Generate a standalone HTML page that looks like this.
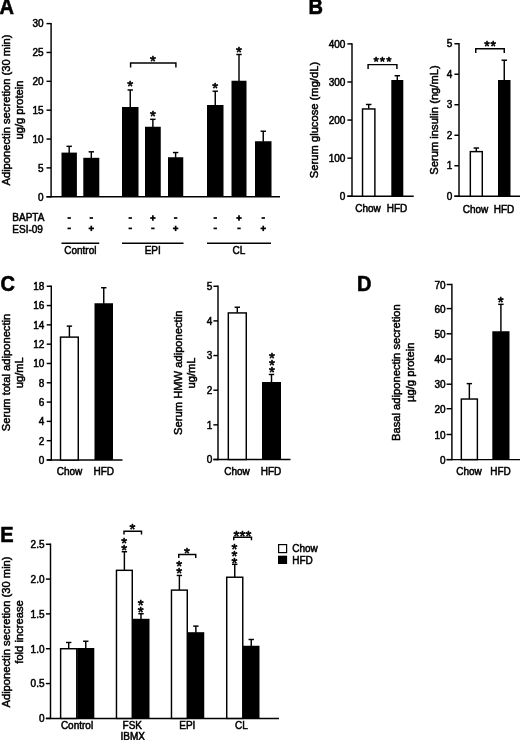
<!DOCTYPE html>
<html lang="en">
<head>
<meta charset="utf-8">
<title>Figure</title>
<style>
html,body{margin:0;padding:0;background:#fff;}
body{width:520px;height:740px;overflow:hidden;}
svg{display:block;will-change:transform;}
text{font-family:"Liberation Sans",Arial,Helvetica,sans-serif;fill:#000;}
.t{stroke:#000;stroke-width:0.5px;}
.k{letter-spacing:0.3px;}
.p{stroke:#000;stroke-width:0.6px;stroke-linejoin:round;}
.s{stroke:#000;stroke-width:0.65px;stroke-linejoin:round;}
</style>
</head>
<body>
<svg width="520" height="740" viewBox="0 0 520 740">
<rect x="0" y="0" width="520" height="740" fill="#fff"/>
<text class="p" transform="translate(-0.60,14.30) scale(0.92,1)" font-size="21.8" font-weight="bold">A</text>
<line x1="51.10" y1="22.88" x2="51.10" y2="197.47" stroke="#000" stroke-width="1.45"/>
<line x1="46.50" y1="196.75" x2="280.00" y2="196.75" stroke="#000" stroke-width="1.45"/>
<line x1="46.50" y1="23.60" x2="51.10" y2="23.60" stroke="#000" stroke-width="1.45"/>
<text class="t" x="43.50" y="27.38" font-size="10" letter-spacing="0" text-anchor="end">30</text>
<line x1="46.50" y1="52.46" x2="51.10" y2="52.46" stroke="#000" stroke-width="1.45"/>
<text class="t" x="43.50" y="56.24" font-size="10" letter-spacing="0" text-anchor="end">25</text>
<line x1="46.50" y1="81.32" x2="51.10" y2="81.32" stroke="#000" stroke-width="1.45"/>
<text class="t" x="43.50" y="85.10" font-size="10" letter-spacing="0" text-anchor="end">20</text>
<line x1="46.50" y1="110.18" x2="51.10" y2="110.18" stroke="#000" stroke-width="1.45"/>
<text class="t" x="43.50" y="113.96" font-size="10" letter-spacing="0" text-anchor="end">15</text>
<line x1="46.50" y1="139.03" x2="51.10" y2="139.03" stroke="#000" stroke-width="1.45"/>
<text class="t" x="43.50" y="142.81" font-size="10" letter-spacing="0" text-anchor="end">10</text>
<line x1="46.50" y1="167.89" x2="51.10" y2="167.89" stroke="#000" stroke-width="1.45"/>
<text class="t" x="43.50" y="171.67" font-size="10" letter-spacing="0" text-anchor="end">5</text>
<line x1="46.50" y1="196.75" x2="51.10" y2="196.75" stroke="#000" stroke-width="1.45"/>
<text class="t" x="43.50" y="200.53" font-size="10" letter-spacing="0" text-anchor="end">0</text>
<text class="t" transform="translate(9.61,110.00) rotate(-90)" font-size="11.2" text-anchor="middle">Adiponectin secretion (30 min)</text>
<text class="t" transform="translate(22.91,110.00) rotate(-90)" font-size="11.2" text-anchor="middle">ug/g protein</text>
<rect x="61.50" y="152.60" width="15.40" height="44.15" fill="#000"/>
<line x1="69.20" y1="153.10" x2="69.20" y2="146.32" stroke="#000" stroke-width="1.45"/>
<line x1="66.50" y1="146.32" x2="71.90" y2="146.32" stroke="#000" stroke-width="1.45"/>
<rect x="83.30" y="157.80" width="16.00" height="38.95" fill="#000"/>
<line x1="91.30" y1="158.30" x2="91.30" y2="151.82" stroke="#000" stroke-width="1.45"/>
<line x1="88.60" y1="151.82" x2="94.00" y2="151.82" stroke="#000" stroke-width="1.45"/>
<rect x="122.00" y="107.00" width="16.50" height="89.75" fill="#000"/>
<line x1="130.25" y1="107.50" x2="130.25" y2="89.97" stroke="#000" stroke-width="1.45"/>
<line x1="127.55" y1="89.97" x2="132.95" y2="89.97" stroke="#000" stroke-width="1.45"/>
<rect x="145.00" y="126.75" width="15.75" height="70.00" fill="#000"/>
<line x1="152.88" y1="127.25" x2="152.88" y2="119.32" stroke="#000" stroke-width="1.45"/>
<line x1="150.18" y1="119.32" x2="155.57" y2="119.32" stroke="#000" stroke-width="1.45"/>
<rect x="168.00" y="157.25" width="15.25" height="39.50" fill="#000"/>
<line x1="175.62" y1="157.75" x2="175.62" y2="152.53" stroke="#000" stroke-width="1.45"/>
<line x1="172.93" y1="152.53" x2="178.32" y2="152.53" stroke="#000" stroke-width="1.45"/>
<rect x="207.00" y="105.00" width="16.50" height="91.75" fill="#000"/>
<line x1="215.25" y1="105.50" x2="215.25" y2="91.22" stroke="#000" stroke-width="1.45"/>
<line x1="212.55" y1="91.22" x2="217.95" y2="91.22" stroke="#000" stroke-width="1.45"/>
<rect x="231.50" y="80.75" width="15.00" height="116.00" fill="#000"/>
<line x1="239.00" y1="81.25" x2="239.00" y2="54.48" stroke="#000" stroke-width="1.45"/>
<line x1="236.30" y1="54.48" x2="241.70" y2="54.48" stroke="#000" stroke-width="1.45"/>
<rect x="255.00" y="141.25" width="16.50" height="55.50" fill="#000"/>
<line x1="263.25" y1="141.75" x2="263.25" y2="131.22" stroke="#000" stroke-width="1.45"/>
<line x1="260.55" y1="131.22" x2="265.95" y2="131.22" stroke="#000" stroke-width="1.45"/>
<text class="s" x="130.25" y="91.49" font-size="15" letter-spacing="0" text-anchor="middle">*</text>
<text class="s" x="153.00" y="121.49" font-size="15" letter-spacing="0" text-anchor="middle">*</text>
<text class="s" x="215.25" y="93.19" font-size="15" letter-spacing="0" text-anchor="middle">*</text>
<text class="s" x="239.00" y="56.94" font-size="15" letter-spacing="0" text-anchor="middle">*</text>
<polyline points="130.60,67.50 130.60,63.00 175.90,63.00 175.90,67.50" fill="none" stroke="#000" stroke-width="1.45"/>
<text class="s" x="153.00" y="65.99" font-size="15" letter-spacing="0" text-anchor="middle">*</text>
<text class="t" x="12.30" y="221.28" font-size="10" text-anchor="start">BAPTA</text>
<text class="t" x="12.30" y="232.68" font-size="10" text-anchor="start">ESI-09</text>
<line x1="67.50" y1="218.00" x2="70.90" y2="218.00" stroke="#000" stroke-width="1.7"/>
<line x1="67.50" y1="228.40" x2="70.90" y2="228.40" stroke="#000" stroke-width="1.7"/>
<line x1="89.60" y1="218.00" x2="93.00" y2="218.00" stroke="#000" stroke-width="1.7"/>
<line x1="88.60" y1="228.40" x2="94.00" y2="228.40" stroke="#000" stroke-width="1.7"/>
<line x1="91.30" y1="225.70" x2="91.30" y2="231.10" stroke="#000" stroke-width="1.7"/>
<line x1="128.55" y1="218.00" x2="131.95" y2="218.00" stroke="#000" stroke-width="1.7"/>
<line x1="128.55" y1="228.40" x2="131.95" y2="228.40" stroke="#000" stroke-width="1.7"/>
<line x1="150.18" y1="218.00" x2="155.57" y2="218.00" stroke="#000" stroke-width="1.7"/>
<line x1="152.88" y1="215.30" x2="152.88" y2="220.70" stroke="#000" stroke-width="1.7"/>
<line x1="151.18" y1="228.40" x2="154.57" y2="228.40" stroke="#000" stroke-width="1.7"/>
<line x1="173.93" y1="218.00" x2="177.32" y2="218.00" stroke="#000" stroke-width="1.7"/>
<line x1="172.93" y1="228.40" x2="178.32" y2="228.40" stroke="#000" stroke-width="1.7"/>
<line x1="175.62" y1="225.70" x2="175.62" y2="231.10" stroke="#000" stroke-width="1.7"/>
<line x1="213.55" y1="218.00" x2="216.95" y2="218.00" stroke="#000" stroke-width="1.7"/>
<line x1="213.55" y1="228.40" x2="216.95" y2="228.40" stroke="#000" stroke-width="1.7"/>
<line x1="236.30" y1="218.00" x2="241.70" y2="218.00" stroke="#000" stroke-width="1.7"/>
<line x1="239.00" y1="215.30" x2="239.00" y2="220.70" stroke="#000" stroke-width="1.7"/>
<line x1="237.30" y1="228.40" x2="240.70" y2="228.40" stroke="#000" stroke-width="1.7"/>
<line x1="261.55" y1="218.00" x2="264.95" y2="218.00" stroke="#000" stroke-width="1.7"/>
<line x1="260.55" y1="228.40" x2="265.95" y2="228.40" stroke="#000" stroke-width="1.7"/>
<line x1="263.25" y1="225.70" x2="263.25" y2="231.10" stroke="#000" stroke-width="1.7"/>
<line x1="61.50" y1="243.25" x2="99.25" y2="243.25" stroke="#000" stroke-width="1.45"/>
<text class="t" x="80.38" y="254.08" font-size="10" text-anchor="middle">Control</text>
<line x1="122.00" y1="243.25" x2="183.50" y2="243.25" stroke="#000" stroke-width="1.45"/>
<text class="t" x="152.75" y="254.08" font-size="10" text-anchor="middle">EPI</text>
<line x1="207.00" y1="243.25" x2="271.00" y2="243.25" stroke="#000" stroke-width="1.45"/>
<text class="t" x="239.00" y="254.08" font-size="10" text-anchor="middle">CL</text>
<text class="p" transform="translate(308.40,14.40) scale(0.92,1)" font-size="21.8" font-weight="bold">B</text>
<line x1="352.00" y1="43.17" x2="352.00" y2="196.97" stroke="#000" stroke-width="1.45"/>
<line x1="347.40" y1="196.25" x2="413.75" y2="196.25" stroke="#000" stroke-width="1.45"/>
<line x1="347.40" y1="43.90" x2="352.00" y2="43.90" stroke="#000" stroke-width="1.45"/>
<text class="t" x="345.40" y="47.78" font-size="10" letter-spacing="0" text-anchor="end">400</text>
<line x1="347.40" y1="81.99" x2="352.00" y2="81.99" stroke="#000" stroke-width="1.45"/>
<text class="t" x="345.40" y="85.87" font-size="10" letter-spacing="0" text-anchor="end">300</text>
<line x1="347.40" y1="120.07" x2="352.00" y2="120.07" stroke="#000" stroke-width="1.45"/>
<text class="t" x="345.40" y="123.95" font-size="10" letter-spacing="0" text-anchor="end">200</text>
<line x1="347.40" y1="158.16" x2="352.00" y2="158.16" stroke="#000" stroke-width="1.45"/>
<text class="t" x="345.40" y="162.04" font-size="10" letter-spacing="0" text-anchor="end">100</text>
<line x1="347.40" y1="196.25" x2="352.00" y2="196.25" stroke="#000" stroke-width="1.45"/>
<text class="t" x="345.40" y="200.13" font-size="10" letter-spacing="0" text-anchor="end">0</text>
<text class="t" transform="translate(317.61,120.00) rotate(-90)" font-size="11.2" text-anchor="middle">Serum glucose (mg/dL)</text>
<rect x="362.53" y="108.97" width="12.35" height="87.28" fill="#fff" stroke="#000" stroke-width="1.45"/>
<line x1="368.70" y1="108.75" x2="368.70" y2="104.47" stroke="#000" stroke-width="1.45"/>
<line x1="365.95" y1="104.47" x2="371.45" y2="104.47" stroke="#000" stroke-width="1.45"/>
<rect x="391.30" y="80.00" width="12.00" height="116.25" fill="#000"/>
<line x1="397.30" y1="80.50" x2="397.30" y2="75.72" stroke="#000" stroke-width="1.45"/>
<line x1="394.55" y1="75.72" x2="400.05" y2="75.72" stroke="#000" stroke-width="1.45"/>
<polyline points="368.10,69.00 368.10,64.60 396.90,64.60 396.90,69.00" fill="none" stroke="#000" stroke-width="1.45"/>
<text class="s" x="383.05" y="66.22" font-size="13.5" letter-spacing="1.1" text-anchor="middle">***</text>
<text class="t" x="368.00" y="212.48" font-size="10" text-anchor="middle">Chow</text>
<text class="t" x="397.00" y="212.48" font-size="10" text-anchor="middle">HFD</text>
<line x1="459.00" y1="43.02" x2="459.00" y2="196.97" stroke="#000" stroke-width="1.45"/>
<line x1="454.40" y1="196.25" x2="520.00" y2="196.25" stroke="#000" stroke-width="1.45"/>
<line x1="454.40" y1="43.75" x2="459.00" y2="43.75" stroke="#000" stroke-width="1.45"/>
<text class="t" x="452.20" y="47.33" font-size="10" letter-spacing="0" text-anchor="end">5</text>
<line x1="454.40" y1="74.25" x2="459.00" y2="74.25" stroke="#000" stroke-width="1.45"/>
<text class="t" x="452.20" y="77.83" font-size="10" letter-spacing="0" text-anchor="end">4</text>
<line x1="454.40" y1="104.75" x2="459.00" y2="104.75" stroke="#000" stroke-width="1.45"/>
<text class="t" x="452.20" y="108.33" font-size="10" letter-spacing="0" text-anchor="end">3</text>
<line x1="454.40" y1="135.25" x2="459.00" y2="135.25" stroke="#000" stroke-width="1.45"/>
<text class="t" x="452.20" y="138.83" font-size="10" letter-spacing="0" text-anchor="end">2</text>
<line x1="454.40" y1="165.75" x2="459.00" y2="165.75" stroke="#000" stroke-width="1.45"/>
<text class="t" x="452.20" y="169.33" font-size="10" letter-spacing="0" text-anchor="end">1</text>
<line x1="454.40" y1="196.25" x2="459.00" y2="196.25" stroke="#000" stroke-width="1.45"/>
<text class="t" x="452.20" y="199.83" font-size="10" letter-spacing="0" text-anchor="end">0</text>
<text class="t" transform="translate(438.31,120.00) rotate(-90)" font-size="11.2" text-anchor="middle">Serum insulin (ng/mL)</text>
<rect x="470.33" y="151.62" width="11.95" height="44.62" fill="#fff" stroke="#000" stroke-width="1.45"/>
<line x1="476.30" y1="151.40" x2="476.30" y2="148.03" stroke="#000" stroke-width="1.45"/>
<line x1="473.55" y1="148.03" x2="479.05" y2="148.03" stroke="#000" stroke-width="1.45"/>
<rect x="498.00" y="80.00" width="12.50" height="116.25" fill="#000"/>
<line x1="504.25" y1="80.50" x2="504.25" y2="60.23" stroke="#000" stroke-width="1.45"/>
<line x1="501.50" y1="60.23" x2="507.00" y2="60.23" stroke="#000" stroke-width="1.45"/>
<polyline points="475.75,53.00 475.75,48.75 504.25,48.75 504.25,53.00" fill="none" stroke="#000" stroke-width="1.45"/>
<text class="s" x="490.40" y="50.57" font-size="14" letter-spacing="0.8" text-anchor="middle">**</text>
<text class="t" x="475.50" y="212.88" font-size="10" text-anchor="middle">Chow</text>
<text class="t" x="504.00" y="212.88" font-size="10" text-anchor="middle">HFD</text>
<text class="p" transform="translate(0.60,290.80) scale(0.92,1)" font-size="21.8" font-weight="bold">C</text>
<line x1="51.30" y1="285.52" x2="51.30" y2="460.73" stroke="#000" stroke-width="1.45"/>
<line x1="46.70" y1="460.00" x2="122.50" y2="460.00" stroke="#000" stroke-width="1.45"/>
<line x1="46.70" y1="286.25" x2="51.30" y2="286.25" stroke="#000" stroke-width="1.45"/>
<text class="t" x="44.30" y="290.13" font-size="10" letter-spacing="0" text-anchor="end">18</text>
<line x1="46.70" y1="305.56" x2="51.30" y2="305.56" stroke="#000" stroke-width="1.45"/>
<text class="t" x="44.30" y="309.44" font-size="10" letter-spacing="0" text-anchor="end">16</text>
<line x1="46.70" y1="324.86" x2="51.30" y2="324.86" stroke="#000" stroke-width="1.45"/>
<text class="t" x="44.30" y="328.74" font-size="10" letter-spacing="0" text-anchor="end">14</text>
<line x1="46.70" y1="344.17" x2="51.30" y2="344.17" stroke="#000" stroke-width="1.45"/>
<text class="t" x="44.30" y="348.05" font-size="10" letter-spacing="0" text-anchor="end">12</text>
<line x1="46.70" y1="363.47" x2="51.30" y2="363.47" stroke="#000" stroke-width="1.45"/>
<text class="t" x="44.30" y="367.35" font-size="10" letter-spacing="0" text-anchor="end">10</text>
<line x1="46.70" y1="382.78" x2="51.30" y2="382.78" stroke="#000" stroke-width="1.45"/>
<text class="t" x="44.30" y="386.66" font-size="10" letter-spacing="0" text-anchor="end">8</text>
<line x1="46.70" y1="402.08" x2="51.30" y2="402.08" stroke="#000" stroke-width="1.45"/>
<text class="t" x="44.30" y="405.96" font-size="10" letter-spacing="0" text-anchor="end">6</text>
<line x1="46.70" y1="421.39" x2="51.30" y2="421.39" stroke="#000" stroke-width="1.45"/>
<text class="t" x="44.30" y="425.27" font-size="10" letter-spacing="0" text-anchor="end">4</text>
<line x1="46.70" y1="440.69" x2="51.30" y2="440.69" stroke="#000" stroke-width="1.45"/>
<text class="t" x="44.30" y="444.57" font-size="10" letter-spacing="0" text-anchor="end">2</text>
<line x1="46.70" y1="460.00" x2="51.30" y2="460.00" stroke="#000" stroke-width="1.45"/>
<text class="t" x="44.30" y="463.88" font-size="10" letter-spacing="0" text-anchor="end">0</text>
<text class="t" transform="translate(9.91,372.50) rotate(-90)" font-size="11.2" text-anchor="middle">Serum total adiponectin</text>
<text class="t" transform="translate(22.81,372.75) rotate(-90)" font-size="11.2" text-anchor="middle">ug/mL</text>
<rect x="60.52" y="337.12" width="17.75" height="122.88" fill="#fff" stroke="#000" stroke-width="1.45"/>
<line x1="69.40" y1="336.90" x2="69.40" y2="326.12" stroke="#000" stroke-width="1.45"/>
<line x1="66.70" y1="326.12" x2="72.10" y2="326.12" stroke="#000" stroke-width="1.45"/>
<rect x="94.50" y="303.25" width="18.50" height="156.75" fill="#000"/>
<line x1="103.75" y1="303.75" x2="103.75" y2="287.73" stroke="#000" stroke-width="1.45"/>
<line x1="101.05" y1="287.73" x2="106.45" y2="287.73" stroke="#000" stroke-width="1.45"/>
<text class="t" x="69.50" y="474.83" font-size="10" text-anchor="middle">Chow</text>
<text class="t" x="103.75" y="474.83" font-size="10" text-anchor="middle">HFD</text>
<line x1="218.00" y1="285.52" x2="218.00" y2="460.23" stroke="#000" stroke-width="1.45"/>
<line x1="213.40" y1="459.50" x2="290.50" y2="459.50" stroke="#000" stroke-width="1.45"/>
<line x1="213.40" y1="286.25" x2="218.00" y2="286.25" stroke="#000" stroke-width="1.45"/>
<text class="t" x="212.20" y="290.13" font-size="10" letter-spacing="0" text-anchor="end">5</text>
<line x1="213.40" y1="320.90" x2="218.00" y2="320.90" stroke="#000" stroke-width="1.45"/>
<text class="t" x="212.20" y="324.78" font-size="10" letter-spacing="0" text-anchor="end">4</text>
<line x1="213.40" y1="355.55" x2="218.00" y2="355.55" stroke="#000" stroke-width="1.45"/>
<text class="t" x="212.20" y="359.43" font-size="10" letter-spacing="0" text-anchor="end">3</text>
<line x1="213.40" y1="390.20" x2="218.00" y2="390.20" stroke="#000" stroke-width="1.45"/>
<text class="t" x="212.20" y="394.08" font-size="10" letter-spacing="0" text-anchor="end">2</text>
<line x1="213.40" y1="424.85" x2="218.00" y2="424.85" stroke="#000" stroke-width="1.45"/>
<text class="t" x="212.20" y="428.73" font-size="10" letter-spacing="0" text-anchor="end">1</text>
<line x1="213.40" y1="459.50" x2="218.00" y2="459.50" stroke="#000" stroke-width="1.45"/>
<text class="t" x="212.20" y="463.38" font-size="10" letter-spacing="0" text-anchor="end">0</text>
<text class="t" transform="translate(182.11,372.75) rotate(-90)" font-size="11.2" text-anchor="middle">Serum HMW adiponectin</text>
<text class="t" transform="translate(195.41,373.00) rotate(-90)" font-size="11.2" text-anchor="middle">ug/mL</text>
<rect x="228.32" y="312.93" width="17.95" height="146.58" fill="#fff" stroke="#000" stroke-width="1.45"/>
<line x1="237.30" y1="312.70" x2="237.30" y2="307.23" stroke="#000" stroke-width="1.45"/>
<line x1="234.60" y1="307.23" x2="240.00" y2="307.23" stroke="#000" stroke-width="1.45"/>
<rect x="262.00" y="382.00" width="19.00" height="77.50" fill="#000"/>
<line x1="271.50" y1="382.50" x2="271.50" y2="374.48" stroke="#000" stroke-width="1.45"/>
<line x1="268.80" y1="374.48" x2="274.20" y2="374.48" stroke="#000" stroke-width="1.45"/>
<text class="s" font-size="15" text-anchor="middle"><tspan x="271.90" y="363.19">*</tspan><tspan x="271.90" y="370.29">*</tspan><tspan x="271.90" y="377.39">*</tspan></text>
<text class="t" x="237.00" y="474.83" font-size="10" text-anchor="middle">Chow</text>
<text class="t" x="271.00" y="474.83" font-size="10" text-anchor="middle">HFD</text>
<text class="p" transform="translate(357.00,290.80) scale(0.92,1)" font-size="21.8" font-weight="bold">D</text>
<line x1="451.90" y1="283.77" x2="451.90" y2="460.33" stroke="#000" stroke-width="1.45"/>
<line x1="446.60" y1="459.60" x2="520.00" y2="459.60" stroke="#000" stroke-width="1.45"/>
<line x1="446.60" y1="284.50" x2="451.90" y2="284.50" stroke="#000" stroke-width="1.45"/>
<text class="t" x="445.60" y="288.58" font-size="10" letter-spacing="0" text-anchor="end">70</text>
<line x1="446.60" y1="308.60" x2="451.90" y2="308.60" stroke="#000" stroke-width="1.45"/>
<text class="t" x="445.60" y="312.68" font-size="10" letter-spacing="0" text-anchor="end">60</text>
<line x1="446.60" y1="333.80" x2="451.90" y2="333.80" stroke="#000" stroke-width="1.45"/>
<text class="t" x="445.60" y="337.88" font-size="10" letter-spacing="0" text-anchor="end">50</text>
<line x1="446.60" y1="359.10" x2="451.90" y2="359.10" stroke="#000" stroke-width="1.45"/>
<text class="t" x="445.60" y="363.18" font-size="10" letter-spacing="0" text-anchor="end">40</text>
<line x1="446.60" y1="384.20" x2="451.90" y2="384.20" stroke="#000" stroke-width="1.45"/>
<text class="t" x="445.60" y="388.28" font-size="10" letter-spacing="0" text-anchor="end">30</text>
<line x1="446.60" y1="408.70" x2="451.90" y2="408.70" stroke="#000" stroke-width="1.45"/>
<text class="t" x="445.60" y="412.78" font-size="10" letter-spacing="0" text-anchor="end">20</text>
<line x1="446.60" y1="434.50" x2="451.90" y2="434.50" stroke="#000" stroke-width="1.45"/>
<text class="t" x="445.60" y="438.58" font-size="10" letter-spacing="0" text-anchor="end">10</text>
<line x1="446.60" y1="459.60" x2="451.90" y2="459.60" stroke="#000" stroke-width="1.45"/>
<text class="t" x="445.60" y="463.68" font-size="10" letter-spacing="0" text-anchor="end">0</text>
<text class="t" transform="translate(400.41,372.60) rotate(-90)" font-size="11.2" text-anchor="middle">Basal adiponectin secretion</text>
<text class="t" transform="translate(413.61,372.25) rotate(-90)" font-size="11.2" text-anchor="middle">µg/g protein</text>
<rect x="461.33" y="399.03" width="16.05" height="60.58" fill="#fff" stroke="#000" stroke-width="1.45"/>
<line x1="469.35" y1="398.80" x2="469.35" y2="383.62" stroke="#000" stroke-width="1.45"/>
<line x1="466.65" y1="383.62" x2="472.05" y2="383.62" stroke="#000" stroke-width="1.45"/>
<rect x="492.30" y="331.25" width="17.20" height="128.35" fill="#000"/>
<line x1="500.90" y1="331.75" x2="500.90" y2="304.33" stroke="#000" stroke-width="1.45"/>
<line x1="498.20" y1="304.33" x2="503.60" y2="304.33" stroke="#000" stroke-width="1.45"/>
<text class="s" x="500.60" y="306.69" font-size="15" letter-spacing="0" text-anchor="middle">*</text>
<text class="t" x="469.00" y="474.83" font-size="10" text-anchor="middle">Chow</text>
<text class="t" x="500.50" y="474.83" font-size="10" text-anchor="middle">HFD</text>
<text class="p" transform="translate(0.20,542.10) scale(0.92,1)" font-size="21.8" font-weight="bold">E</text>
<line x1="50.50" y1="543.52" x2="50.50" y2="719.12" stroke="#000" stroke-width="1.45"/>
<line x1="45.90" y1="718.40" x2="279.00" y2="718.40" stroke="#000" stroke-width="1.45"/>
<line x1="45.90" y1="544.25" x2="50.50" y2="544.25" stroke="#000" stroke-width="1.45"/>
<text class="t" x="44.50" y="548.13" font-size="10" letter-spacing="0" text-anchor="end">2.5</text>
<line x1="45.90" y1="579.08" x2="50.50" y2="579.08" stroke="#000" stroke-width="1.45"/>
<text class="t" x="44.50" y="582.96" font-size="10" letter-spacing="0" text-anchor="end">2.0</text>
<line x1="45.90" y1="613.91" x2="50.50" y2="613.91" stroke="#000" stroke-width="1.45"/>
<text class="t" x="44.50" y="617.79" font-size="10" letter-spacing="0" text-anchor="end">1.5</text>
<line x1="45.90" y1="648.74" x2="50.50" y2="648.74" stroke="#000" stroke-width="1.45"/>
<text class="t" x="44.50" y="652.62" font-size="10" letter-spacing="0" text-anchor="end">1.0</text>
<line x1="45.90" y1="683.57" x2="50.50" y2="683.57" stroke="#000" stroke-width="1.45"/>
<text class="t" x="44.50" y="687.45" font-size="10" letter-spacing="0" text-anchor="end">0.5</text>
<line x1="45.90" y1="718.40" x2="50.50" y2="718.40" stroke="#000" stroke-width="1.45"/>
<text class="t" x="44.50" y="722.28" font-size="10" letter-spacing="0" text-anchor="end">0</text>
<text class="t" transform="translate(10.41,632.00) rotate(-90)" font-size="11.2" text-anchor="middle">Adiponectin secretion (30 min)</text>
<text class="t" transform="translate(22.91,632.00) rotate(-90)" font-size="11.2" text-anchor="middle">fold increase</text>
<rect x="60.62" y="648.73" width="16.15" height="69.67" fill="#fff" stroke="#000" stroke-width="1.45"/>
<line x1="68.70" y1="648.50" x2="68.70" y2="642.48" stroke="#000" stroke-width="1.45"/>
<line x1="66.00" y1="642.48" x2="71.40" y2="642.48" stroke="#000" stroke-width="1.45"/>
<rect x="77.20" y="648.00" width="17.10" height="70.40" fill="#000"/>
<line x1="85.75" y1="648.50" x2="85.75" y2="641.23" stroke="#000" stroke-width="1.45"/>
<line x1="83.05" y1="641.23" x2="88.45" y2="641.23" stroke="#000" stroke-width="1.45"/>
<rect x="116.47" y="570.33" width="15.80" height="148.07" fill="#fff" stroke="#000" stroke-width="1.45"/>
<line x1="124.38" y1="570.10" x2="124.38" y2="551.73" stroke="#000" stroke-width="1.45"/>
<line x1="121.67" y1="551.73" x2="127.08" y2="551.73" stroke="#000" stroke-width="1.45"/>
<rect x="132.50" y="618.80" width="17.00" height="99.60" fill="#000"/>
<line x1="141.00" y1="619.30" x2="141.00" y2="613.73" stroke="#000" stroke-width="1.45"/>
<line x1="138.30" y1="613.73" x2="143.70" y2="613.73" stroke="#000" stroke-width="1.45"/>
<rect x="171.47" y="590.12" width="15.80" height="128.28" fill="#fff" stroke="#000" stroke-width="1.45"/>
<line x1="179.38" y1="589.90" x2="179.38" y2="575.43" stroke="#000" stroke-width="1.45"/>
<line x1="176.68" y1="575.43" x2="182.07" y2="575.43" stroke="#000" stroke-width="1.45"/>
<rect x="187.50" y="632.20" width="16.75" height="86.20" fill="#000"/>
<line x1="195.88" y1="632.70" x2="195.88" y2="626.12" stroke="#000" stroke-width="1.45"/>
<line x1="193.18" y1="626.12" x2="198.57" y2="626.12" stroke="#000" stroke-width="1.45"/>
<rect x="226.72" y="577.23" width="16.05" height="141.17" fill="#fff" stroke="#000" stroke-width="1.45"/>
<line x1="234.75" y1="577.00" x2="234.75" y2="564.33" stroke="#000" stroke-width="1.45"/>
<line x1="232.05" y1="564.33" x2="237.45" y2="564.33" stroke="#000" stroke-width="1.45"/>
<rect x="243.00" y="645.75" width="16.50" height="72.65" fill="#000"/>
<line x1="251.25" y1="646.25" x2="251.25" y2="639.48" stroke="#000" stroke-width="1.45"/>
<line x1="248.55" y1="639.48" x2="253.95" y2="639.48" stroke="#000" stroke-width="1.45"/>
<text class="s" font-size="15" text-anchor="middle"><tspan x="124.25" y="548.24">*</tspan><tspan x="124.25" y="555.34">*</tspan></text>
<text class="s" font-size="15" text-anchor="middle"><tspan x="140.75" y="610.24">*</tspan><tspan x="140.75" y="617.34">*</tspan></text>
<text class="s" font-size="15" text-anchor="middle"><tspan x="179.25" y="571.14">*</tspan><tspan x="179.25" y="578.24">*</tspan></text>
<text class="s" font-size="15" text-anchor="middle"><tspan x="234.50" y="553.79">*</tspan><tspan x="234.50" y="560.89">*</tspan><tspan x="234.50" y="567.99">*</tspan></text>
<polyline points="124.00,534.60 124.00,531.20 141.50,531.20 141.50,534.60" fill="none" stroke="#000" stroke-width="1.45"/>
<text class="s" x="132.50" y="534.29" font-size="15" letter-spacing="0" text-anchor="middle">*</text>
<polyline points="178.75,558.00 178.75,554.40 195.75,554.40 195.75,558.00" fill="none" stroke="#000" stroke-width="1.45"/>
<text class="s" x="187.00" y="558.19" font-size="15" letter-spacing="0" text-anchor="middle">*</text>
<polyline points="233.75,540.20 233.75,537.20 251.50,537.20 251.50,540.20" fill="none" stroke="#000" stroke-width="1.45"/>
<text class="s" x="242.60" y="540.69" font-size="15" letter-spacing="0.2" text-anchor="middle">***</text>
<text class="t" x="77.00" y="729.48" font-size="10" text-anchor="middle">Control</text>
<text class="t" x="132.30" y="729.48" font-size="10" text-anchor="middle">FSK</text>
<text class="t" x="132.70" y="740.48" font-size="10" text-anchor="middle">IBMX</text>
<text class="t" x="187.30" y="729.48" font-size="10" text-anchor="middle">EPI</text>
<text class="t" x="241.50" y="729.48" font-size="10" text-anchor="middle">CL</text>
<rect x="278.6" y="544.6" width="8.0" height="8.0" fill="#fff" stroke="#000" stroke-width="1.2"/>
<rect x="278.0" y="555.7" width="9.1" height="8.3" fill="#000"/>
<text class="t" x="292.20" y="552.38" font-size="10" text-anchor="start">Chow</text>
<text class="t" x="292.20" y="563.78" font-size="10" text-anchor="start">HFD</text>
</svg>
</body>
</html>
